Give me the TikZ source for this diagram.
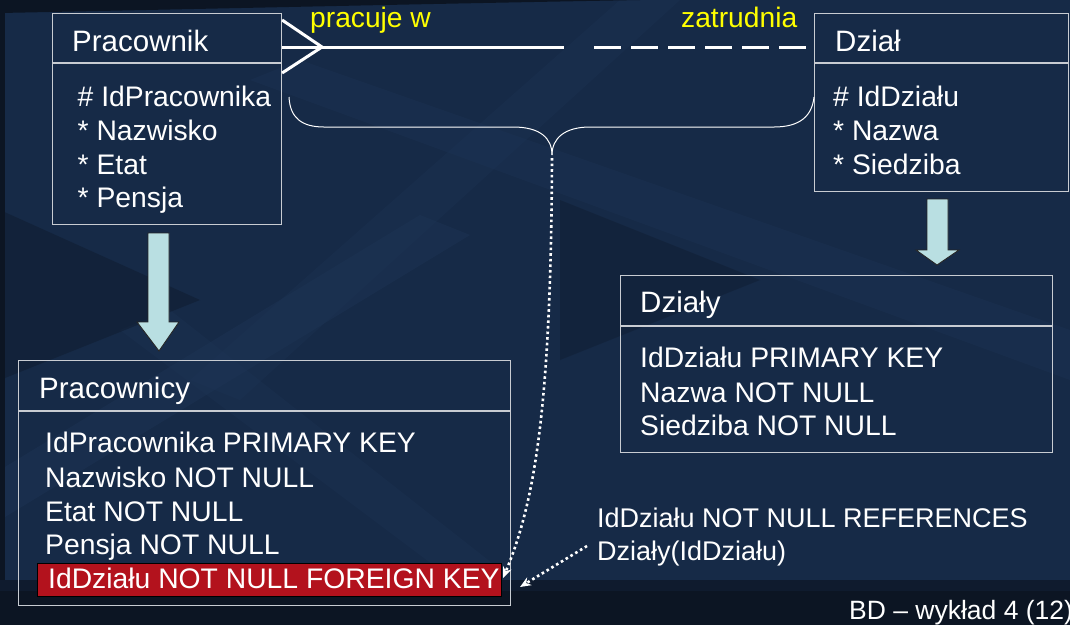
\documentclass[tikz,border=0pt]{standalone}
\usepackage{fontspec}
\setmainfont{Liberation Sans}
\usetikzlibrary{arrows.meta}
\definecolor{bg}{HTML}{162A47}
\definecolor{bgdark}{HTML}{0C1523}
\definecolor{bglight}{HTML}{1E3556}
\definecolor{boxline}{HTML}{C8CCD2}
\definecolor{arrowfill}{HTML}{B9DFE2}
\definecolor{fkred}{HTML}{B3121D}
\definecolor{relyellow}{HTML}{FFFF00}
\tikzset{
  box/.style={draw=boxline, line width=1.1pt, rectangle, inner sep=0pt, anchor=north west},
  txt/.style={text=white, font=\fontsize{28.3}{33}\selectfont, inner sep=0pt, anchor=base west},
  ttl/.style={text=white, font=\fontsize{29.5}{34}\selectfont, inner sep=0pt, anchor=base west},
  note/.style={text=white, font=\fontsize{27}{32}\selectfont, inner sep=0pt, anchor=base west},
  reltxt/.style={text=relyellow, font=\fontsize{28.2}{33}\selectfont, inner sep=0pt, anchor=base west},
  foot/.style={text=white, font=\fontsize{26.5}{31}\selectfont, inner sep=0pt, anchor=base west},
  divider/.style={draw=boxline, line width=1.1pt},
  relline/.style={draw=white, line width=3pt},
  reldash/.style={draw=white, line width=3pt, dash pattern=on 27pt off 10pt},
  brace/.style={draw=white, line width=1pt},
  dotline/.style={draw=white, line width=2.6pt, dash pattern=on 2.6pt off 3pt, -{Stealth[length=11pt,width=9pt]}},
  blockarrow/.style={fill=arrowfill, draw=black!85, line width=0.9pt, line join=miter},
  fkbox/.style={fill=fkred, draw=black, line width=1pt, rectangle, inner sep=0pt, anchor=north west}
}
\begin{document}
\begin{tikzpicture}[x=1pt,y=-1pt]
\useasboundingbox (0,0) rectangle (1070,625);
% background
\fill[bg] (0,0) rectangle (1070,625);
\fill[bglight, opacity=0.45] (0,470) -- (420,215) -- (470,235) -- (0,520) -- cycle;
\fill[bglight, opacity=0.35] (300,60) -- (1070,330) -- (1070,380) -- (250,80) -- cycle;
\fill[bglight, opacity=0.3] (620,0) -- (680,0) -- (240,400) -- (190,380) -- cycle;
\fill[bglight, opacity=0.3] (120,330) -- (170,310) -- (520,585) -- (460,585) -- cycle;
\fill[bgdark, opacity=0.35] (0,210) -- (200,300) -- (0,380) -- cycle;
\fill[bgdark, opacity=0.3] (560,200) -- (760,280) -- (560,360) -- cycle;
\fill[bgdark] (0,0) -- (640,0) .. controls (420,4) and (200,9) .. (0,13) -- cycle;
\fill[bgdark] (0,0) rectangle (5,625);
\fill[bgdark!70!bg] (0,580) rectangle (1070,591);
\fill[bgdark] (0,591) rectangle (1070,625);

% entity boxes
\node[box, minimum width=229pt, minimum height=211pt] (prac) at (52,13) {};
\draw[divider] (52,63) -- (281,63);
\node[ttl] (pracT) at (72,51) {Pracownik};
\node[txt] (pa1) at (77.5,106) {\# IdPracownika};
\node[txt] (pa2) at (77.5,140) {* Nazwisko};
\node[txt] (pa3) at (77.5,174) {* Etat};
\node[txt] (pa4) at (77.5,207) {* Pensja};

\node[box, minimum width=254pt, minimum height=178pt] (dzial) at (814,13) {};
\draw[divider] (814,63) -- (1068,63);
\node[ttl] (dzialT) at (835,51) {Dział};
\node[txt] (da1) at (833,106) {\# IdDziału};
\node[txt] (da2) at (833,140) {* Nazwa};
\node[txt] (da3) at (833,174) {* Siedziba};

% relationship
\coordinate (cf) at (322,47);
\coordinate (solidEnd) at (564,47);
\coordinate (dashStart) at (594,47);
\draw[relline] (prac.north east |- 0,20) -- (cf) -- (prac.north east |- 0,73);
\draw[relline] (prac.north east |- cf) -- (solidEnd);
\draw[reldash] (dashStart) -- (dzial.north west |- cf);
\node[reltxt] (relA) at (310,27) {pracuje w};
\node[reltxt] (relB) at (681,27) {zatrudnia};

% brace of the foreign key
\coordinate (cusp) at (552,155);
\coordinate (bl) at (289,97);
\coordinate (br) at (814,97);
\draw[brace] (bl) .. controls (290,118) and (302,127) .. (324,127) -- (513,127)
   .. controls (540,127) and (552,138) .. (cusp);
\draw[brace] (cusp) .. controls (552,138) and (565,127) .. (590,127) -- (774,127)
   .. controls (800,127) and (812,116) .. (br);

% tables
\node[box, minimum width=492pt, minimum height=245pt] (pracy) at (18,360) {};
\draw[divider] (18,411) -- (510,411);
\node[ttl] (pracyT) at (39,398) {Pracownicy};
\node[txt] (pb1) at (45,452) {IdPracownika PRIMARY KEY};
\node[txt] (pb2) at (45,487) {Nazwisko NOT NULL};
\node[txt] (pb3) at (45,521) {Etat NOT NULL};
\node[txt] (pb4) at (45,554) {Pensja NOT NULL};
\node[fkbox, minimum width=464pt, minimum height=33pt] (fk) at (37,563) {};
\node[txt] (fkT) at (48,588) {IdDziału NOT NULL FOREIGN KEY};

\node[box, minimum width=432pt, minimum height=177pt] (dzialy) at (620,275) {};
\draw[divider] (620,326) -- (1052,326);
\node[ttl] (dzialyT) at (640,312) {Działy};
\node[txt] (db1) at (640,367) {IdDziału PRIMARY KEY};
\node[txt] (db2) at (640,402) {Nazwa NOT NULL};
\node[txt] (db3) at (640,435) {Siedziba NOT NULL};

% transformation arrows
\draw[blockarrow] (148,233) -- (169,233) -- (169,322) -- (179,322) -- (159,351)
   -- (137,322) -- (148,322) -- cycle;
\draw[blockarrow] (927,199) -- (948,199) -- (948,250) -- (959,250) -- (937,265)
   -- (916,250) -- (927,250) -- cycle;

% annotation
\node[note] (ref1) at (597,527) {IdDziału NOT NULL REFERENCES};
\node[note] (ref2) at (597,560) {Działy(IdDziału)};
\coordinate (fkTip) at (503,578);
\coordinate (refStart) at (587,546);
\coordinate (refTip) at (520,587);
\draw[dotline] (cusp) ++(0,3) .. controls (551,400) and (536,500) .. (fkTip);
\draw[dotline] (refStart) -- (refTip);

% footer
\node[foot] (footer) at (849,619) {BD – wykład 4 (12)};
\end{tikzpicture}
\end{document}
